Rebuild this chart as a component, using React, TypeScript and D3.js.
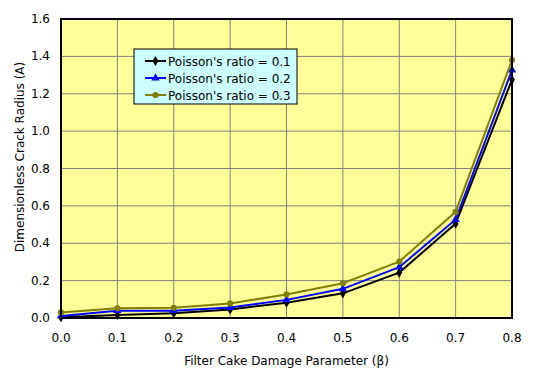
import React from "react";
import * as d3 from "d3";

const betas = [0, 0.1, 0.2, 0.3, 0.4, 0.5, 0.6, 0.7, 0.8];
const ratio01 = [0.004, 0.016, 0.025, 0.046, 0.082, 0.132, 0.243, 0.505, 1.275];
const ratio02 = [0.011, 0.039, 0.039, 0.056, 0.097, 0.156, 0.272, 0.527, 1.327];
const ratio03 = [0.030, 0.052, 0.055, 0.078, 0.126, 0.186, 0.302, 0.568, 1.38];
const seriesNames = ["Poisson's ratio = 0.1", "Poisson's ratio = 0.2", "Poisson's ratio = 0.3"];
const xTicks = [0, 0.1, 0.2, 0.3, 0.4, 0.5, 0.6, 0.7, 0.8];
const yTicks = [0, 0.2, 0.4, 0.6, 0.8, 1.0, 1.2, 1.4, 1.6];
const xTitle = "Filter Cake Damage Parameter (\u03b2)";
const yTitle = "Dimensionless Crack Radius (A)";

const colors = ["#000000", "#0000ff", "#808000"];
const symbols = [d3.symbolDiamond, d3.symbolTriangle, d3.symbolCircle];
const symSizes = [30, 30, 30];

export default function App() {
  const W = 556, H = 380;
  const left = 61, right = 512, top = 19, bottom = 318;
  const x = d3.scaleLinear().domain([0, 0.8]).range([left, right]);
  const y = d3.scaleLinear().domain([0, 1.6]).range([bottom, top]);
  const font = "'DejaVu Sans', Verdana, sans-serif";
  const data = [ratio01, ratio02, ratio03];
  const line = d3.line<number>().x((_, i) => x(betas[i])).y((d) => y(d));

  return (
    <svg width={W} height={H} style={{ position: "absolute", left: 0, top: 0 }}>
      <rect x={0} y={0} width={W} height={H} fill="#ffffff" />
      <rect x={left} y={top} width={right - left} height={bottom - top} fill="#ffff99" />
      {xTicks.slice(1, -1).map((t) => (
        <line key={"gx" + t} x1={x(t)} x2={x(t)} y1={top} y2={bottom} stroke="#808080" strokeWidth={1} />
      ))}
      {yTicks.slice(1, -1).map((t) => (
        <line key={"gy" + t} x1={left} x2={right} y1={y(t)} y2={y(t)} stroke="#808080" strokeWidth={1} />
      ))}
      {data.map((s, k) => (
        <g key={"s" + k}>
          <path d={line(s) || ""} fill="none" stroke={colors[k]} strokeWidth={2} />
          {s.map((v, i) => (
            <path
              key={i}
              d={d3.symbol().type(symbols[k]).size(symSizes[k])() || ""}
              transform={`translate(${x(betas[i])},${y(v)})`}
              fill={colors[k]}
            />
          ))}
        </g>
      ))}
      <rect x={left} y={top} width={right - left} height={bottom - top} fill="none" stroke="#000" strokeWidth={2} />
      {yTicks.map((t) => (
        <text key={"yt" + t} x={50} y={y(t) + 4} textAnchor="end" fontFamily={font} fontSize={12} fill="#000">
          {t.toFixed(1)}
        </text>
      ))}
      {xTicks.map((t) => (
        <text key={"xt" + t} x={x(t)} y={342} textAnchor="middle" fontFamily={font} fontSize={12} fill="#000">
          {t.toFixed(1)}
        </text>
      ))}
      <text x={(left + right) / 2} y={365} textAnchor="middle" fontFamily={font} fontSize={12} fill="#000">
        {xTitle}
      </text>
      <text
        transform={`translate(24,157) rotate(-90)`}
        textAnchor="middle"
        fontFamily={font}
        fontSize={12}
        fill="#000"
      >
        {yTitle}
      </text>
      <g>
        <rect x={134} y={49} width={163} height={55} fill="#ccffff" stroke="#000" strokeWidth={1} />
        {seriesNames.map((n, k) => {
          const ry = 61 + k * 17;
          return (
            <g key={"lg" + k}>
              <line x1={145} x2={166} y1={ry} y2={ry} stroke={colors[k]} strokeWidth={2} />
              <path
                d={d3.symbol().type(symbols[k]).size(symSizes[k])() || ""}
                transform={`translate(155.5,${ry})`}
                fill={colors[k]}
              />
              <text x={168} y={ry + 4.5} fontFamily={font} fontSize={12} fill="#000">
                {n}
              </text>
            </g>
          );
        })}
      </g>
    </svg>
  );
}
